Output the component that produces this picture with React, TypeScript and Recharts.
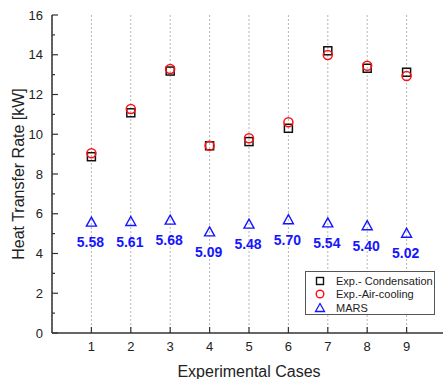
import React from 'react';
import {
    ScatterChart,
    Scatter,
    XAxis,
    YAxis,
    CartesianGrid,
    Legend,
    LabelList,
    Label,
} from 'recharts';

// values
const cases = [1, 2, 3, 4, 5, 6, 7, 8, 9];
const condensation = [8.87, 11.08, 13.18, 9.42, 9.63, 10.3, 14.2, 13.32, 13.12];
const airCooling = [9.04, 11.27, 13.28, 9.42, 9.8, 10.6, 13.99, 13.45, 12.93];
const mars = [5.58, 5.61, 5.68, 5.09, 5.48, 5.7, 5.54, 5.4, 5.02];
const seriesNames = ['Exp.- Condensation', 'Exp.-Air-cooling', 'MARS'];
const yTicks = [0, 1, 2, 3, 4, 5, 6, 7, 8, 9, 10, 11, 12, 13, 14, 15, 16];

const FONT = '"Liberation Sans", Arial, sans-serif';
const AXIS = '#333';
const TEXT = '#222';
const BLACK = '#111';
const RED = '#ff1010';
const BLUE = '#1515ff';

const table = cases.map((c, i) => ({
    case: c,
    cond: condensation[i],
    air: airCooling[i],
    mars: mars[i],
}));

const LeftTick = (p: any) => {
    const v = p.payload.value;
    const major = v % 2 === 0;
    return (
        <g>
            <line x1={p.x} y1={p.y} x2={p.x + (major ? 6 : 3)} y2={p.y} stroke={AXIS} strokeWidth={1.2} />
            {major && (
                <text x={p.x - 9} y={p.y} textAnchor="end" dominantBaseline="central"
                    fontSize={13} fontFamily={FONT} fill={TEXT}>{v}</text>
            )}
        </g>
    );
};

const RightTick = (p: any) => {
    const major = p.payload.value % 2 === 0;
    return <line x1={p.x} y1={p.y} x2={p.x - (major ? 6 : 3)} y2={p.y} stroke={AXIS} strokeWidth={1.2} />;
};

const BottomTick = (p: any) => (
    <g>
        <line x1={p.x} y1={p.y} x2={p.x} y2={p.y - 6} stroke={AXIS} strokeWidth={1.2} />
        <text x={p.x} y={p.y + 13} textAnchor="middle" dominantBaseline="central"
            fontSize={13} fontFamily={FONT} fill={TEXT}>{p.payload.value}</text>
    </g>
);

const Square = (p: any) => (
    <rect x={p.cx - 4} y={p.cy - 4} width={8} height={8} fill="none" stroke={BLACK} strokeWidth={1.5} />
);
const Circle = (p: any) => (
    <circle cx={p.cx} cy={p.cy} r={4.5} fill="none" stroke={RED} strokeWidth={1.5} />
);
const Triangle = (p: any) => (
    <path d={`M${p.cx},${p.cy - 5} L${p.cx + 5},${p.cy + 4} L${p.cx - 5},${p.cy + 4} Z`}
        fill="none" stroke={BLUE} strokeWidth={1.4} />
);

const MarsLabel = (p: any) => {
    const vb = p.viewBox || p;
    const cx = vb.x + (vb.width || 0) / 2;
    const cy = vb.y + (vb.height || 0) / 2;
    return (
        <text x={cx - 1} y={cy + 20} textAnchor="middle" dominantBaseline="central"
            fontSize={14} fontWeight="bold" fontFamily={FONT} fill={BLUE}>
            {Number(p.value).toFixed(2)}
        </text>
    );
};

const legendMarks = [
    <rect x={3.5} y={3.5} width={7} height={7} fill="none" stroke={BLACK} strokeWidth={1.4} />,
    <circle cx={7} cy={7} r={3.8} fill="none" stroke={RED} strokeWidth={1.4} />,
    <path d="M7,2.5 L11.5,10.5 L2.5,10.5 Z" fill="none" stroke={BLUE} strokeWidth={1.3} />,
];

const LegendBox = () => (
    <div style={{
        width: 130, height: 44, border: '1px solid #555', background: '#fff',
        fontFamily: FONT, fontSize: 11, color: TEXT, boxSizing: 'border-box', paddingTop: 2,
    }}>
        {seriesNames.map((name, i) => (
            <div key={name} style={{ display: 'flex', alignItems: 'center', height: 13.5 }}>
                <svg width={14} height={14} style={{ marginLeft: 7, marginRight: 9 }}>{legendMarks[i]}</svg>
                <span style={{ whiteSpace: 'nowrap' }}>{name}</span>
            </div>
        ))}
    </div>
);

const App = () => {
    return (
        <div style={{
            position: 'absolute', left: 0, top: 0, width: 443, height: 379,
            overflow: 'hidden', background: '#fff',
        }}>
            <ScatterChart width={456} height={379} margin={{ top: 15, right: 0, bottom: 0, left: 0 }}>
                <CartesianGrid horizontal={false} stroke="#b5b5b5" strokeDasharray="2 2" />
                <XAxis dataKey="case" type="number" domain={[0, 10]} ticks={cases} interval={0}
                    height={46} tickSize={0} tickMargin={0} tickLine={false} tick={BottomTick}
                    axisLine={{ stroke: AXIS, strokeWidth: 1.5 }}>
                    <Label content={(p: any) => (
                        <text x={p.viewBox.x + p.viewBox.width / 2} y={371} textAnchor="middle"
                            dominantBaseline="central" fontSize={16} fontFamily={FONT} fill={TEXT}>
                            Experimental Cases
                        </text>
                    )} />
                </XAxis>
                <XAxis xAxisId="top" orientation="top" type="number" domain={[0, 10]} height={0}
                    tick={false} tickLine={false} axisLine={{ stroke: AXIS, strokeWidth: 1.5 }} />
                <YAxis type="number" domain={[0, 16]} ticks={yTicks} interval={0} width={52}
                    tickSize={0} tickMargin={0} tickLine={false} tick={LeftTick}
                    axisLine={{ stroke: AXIS, strokeWidth: 1.5 }}>
                    <Label content={(p: any) => {
                        const cy = p.viewBox.y + p.viewBox.height / 2;
                        return (
                            <text x={18} y={cy} transform={`rotate(-90 18 ${cy})`} textAnchor="middle"
                                dominantBaseline="central" fontSize={16} fontFamily={FONT} fill={TEXT}>
                                Heat Transfer Rate [kW]
                            </text>
                        );
                    }} />
                </YAxis>
                <YAxis yAxisId="right" orientation="right" type="number" domain={[0, 16]} ticks={yTicks}
                    interval={0} width={10} tickSize={0} tickMargin={0} tickLine={false} tick={RightTick}
                    axisLine={{ stroke: AXIS, strokeWidth: 1.5 }} />
                <Scatter name={seriesNames[0]} data={table} dataKey="cond" shape={Square} isAnimationActive={false} />
                <Scatter name={seriesNames[1]} data={table} dataKey="air" shape={Circle} isAnimationActive={false} />
                <Scatter name={seriesNames[2]} data={table} dataKey="mars" shape={Triangle} isAnimationActive={false}>
                    <LabelList dataKey="mars" content={MarsLabel} />
                </Scatter>
                <Legend layout="vertical" align="center" verticalAlign="middle"
                    wrapperStyle={{ left: 305, top: 271, width: 130 }} content={() => <LegendBox />} />
            </ScatterChart>
        </div>
    );
};

export default App;
